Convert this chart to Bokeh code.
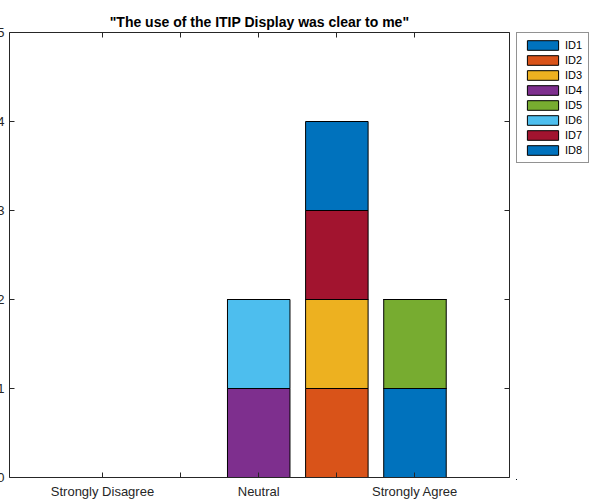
from bokeh.plotting import figure
from bokeh.models import Range1d, FixedTicker, LinearAxis, Legend, LegendItem
from bokeh.layouts import row
from bokeh.embed import file_html
from bokeh.resources import INLINE

categories = ["Strongly Disagree", "Disagree", "Neutral", "Agree", "Strongly Agree"]
positions = [1, 2, 3, 4, 5]
tick_labels = ["Strongly Disagree", "", "Neutral", "", "Strongly Agree"]
series_names = ["ID1", "ID2", "ID3", "ID4", "ID5", "ID6", "ID7", "ID8"]
ID1 = [0, 0, 0, 0, 1]
ID2 = [0, 0, 0, 1, 0]
ID3 = [0, 0, 0, 1, 0]
ID4 = [0, 0, 1, 0, 0]
ID5 = [0, 0, 0, 0, 1]
ID6 = [0, 0, 1, 0, 0]
ID7 = [0, 0, 0, 1, 0]
ID8 = [0, 0, 0, 1, 0]
colors = ["#0072BD", "#D95319", "#EDB120", "#7E2F8E", "#77AC30", "#4DBEEE", "#A2142F", "#0072BD"]
y_ticks = [0, 1, 2, 3, 4, 5]
title_text = '"The use of the ITIP Display was clear to me"'

FONT = "Liberation Sans"
AX = "#262626"

p = figure(frame_width=500, frame_height=445, output_backend="svg", toolbar_location=None,
           x_range=Range1d(-0.19, 6.21), y_range=Range1d(0, 5),
           min_border_left=13, min_border_right=7, min_border_top=32, min_border_bottom=0)
p.styles = {"margin-left": "-6px"}
p.background_fill_color = "white"
p.border_fill_color = "white"
p.xgrid.visible = False
p.ygrid.visible = False
p.outline_line_color = None

p.title.text = title_text
p.title.align = "center"
p.title.text_font = FONT
p.title.text_font_size = "14px"
p.title.text_font_style = "bold"
p.title.text_color = "black"
p.title.standoff = 5

data = {"x": positions}
for n, v in zip(series_names, [ID1, ID2, ID3, ID4, ID5, ID6, ID7, ID8]):
    data[n] = v

p.vbar_stack(series_names, x="x", width=0.8, source=data, fill_color=colors,
             line_color="black", line_width=1)

def style_axis(ax, ticks, labels=True):
    ax.ticker = FixedTicker(ticks=ticks)
    ax.axis_line_color = AX
    ax.major_tick_line_color = AX
    ax.major_tick_in = 5
    ax.major_tick_out = 0
    ax.minor_tick_line_color = None
    ax.major_label_text_font = FONT
    ax.major_label_text_font_size = "13px"
    ax.major_label_text_color = AX
    if not labels:
        ax.major_label_text_font_size = "5px"
        ax.major_label_overrides = {t: "" for t in ticks}
        ax.major_label_text_color = None
        ax.major_label_standoff = 0

xa = p.xaxis[0]
style_axis(xa, positions)
xa.major_label_overrides = {pos: lab for pos, lab in zip(positions, tick_labels)}
xa.major_label_standoff = 6

ya = p.yaxis[0]
style_axis(ya, y_ticks)
ya.major_label_standoff = 5

top = LinearAxis()
style_axis(top, positions, labels=False)
p.add_layout(top, "above")
right = LinearAxis()
style_axis(right, y_ticks, labels=False)
p.add_layout(right, "right")

# legend figure: swatches come from the same series; bars lie outside its view
lf = figure(frame_width=76, frame_height=447, output_backend="svg", toolbar_location=None,
            x_range=Range1d(100, 101), y_range=Range1d(100, 101),
            x_axis_type=None, y_axis_type=None,
            min_border_left=0, min_border_right=0, min_border_top=30, min_border_bottom=25)
lf.background_fill_color = "white"
lf.border_fill_color = "white"
lf.outline_line_color = None
lf.xgrid.visible = False
lf.ygrid.visible = False
lrs = lf.vbar_stack(series_names, x="x", width=0.8, source=data, fill_color=colors,
                    line_color="black", line_width=1)

legend = Legend(items=[LegendItem(label=n, renderers=[r]) for n, r in zip(series_names, lrs)],
                location="top_left")
legend.label_text_font = FONT
legend.label_text_font_size = "11px"
legend.label_text_color = "black"
legend.glyph_width = 39
legend.glyph_height = 12
legend.label_height = 11
legend.label_width = 17
legend.spacing = 3
legend.padding = 6
legend.margin = 0
legend.label_standoff = 3
legend.border_line_color = AX
legend.border_line_width = 1
legend.background_fill_color = "white"
lf.add_layout(legend, "center")

layout = row(p, lf)
open("out.html", "w").write(file_html(layout, INLINE))
